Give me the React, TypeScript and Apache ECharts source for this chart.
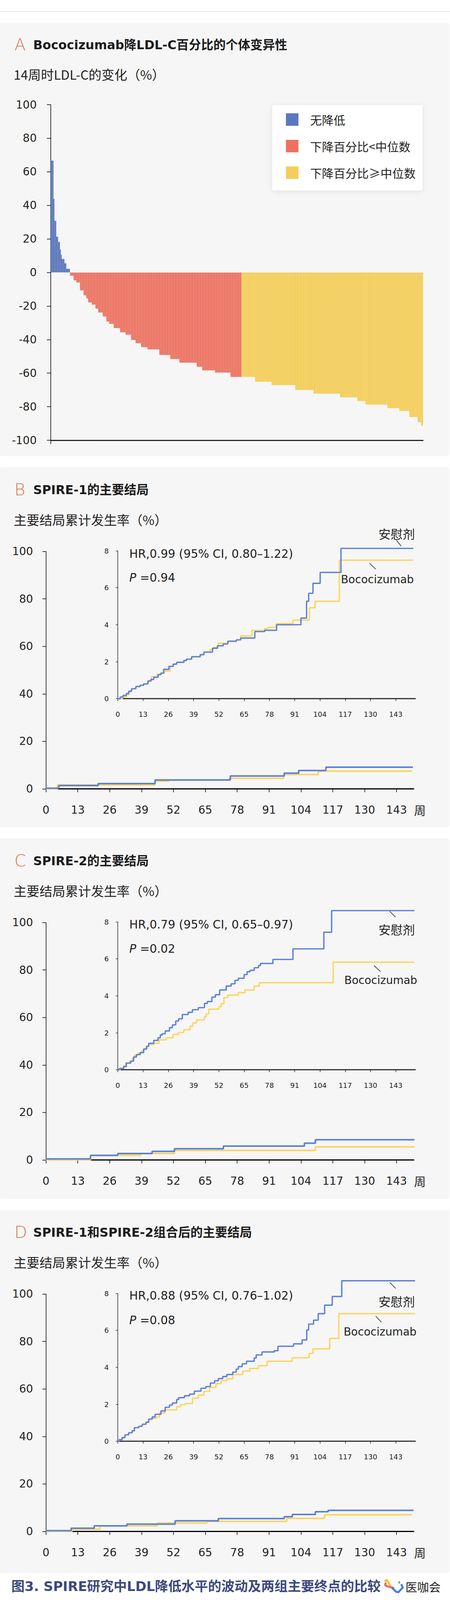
import React, { useEffect, useRef } from 'react';
import * as echarts from 'echarts';

const LATIN = "'DejaVu Sans', 'Noto Sans CJK SC', sans-serif";
const CJK = "'Noto Sans CJK SC', sans-serif";

// ---------------- Panel A : waterfall of LDL-C change at week 14 ----------------
const legendNames = ['无降低', '下降百分比<中位数', '下降百分比≥中位数'];
// each step: value (%) and number of patients sharing that step
const noReductionValues = [66.7, 43.9, 30.8, 21.4, 18.2, 13.8, 10.6, 8.1, 5.5, 2.2];
const noReductionCounts = [3, 1, 2, 2, 2, 1, 1, 3, 2, 4];
const belowMedianValues = [-2.0, -4.7, -6.0, -10.7, -13.7, -15.5, -17.9, -19.2, -21.6, -23.9, -26.3, -29.3, -30.7, -33.2, -35.7, -37.1, -40.3, -42.2, -44.5, -45.9, -49.2, -51.6, -53.8, -56.3, -58.4, -59.7, -62.3];
const belowMedianCounts = [4, 3, 4, 4, 3, 2, 4, 4, 3, 5, 4, 3, 5, 7, 6, 6, 5, 6, 7, 13, 12, 10, 19, 6, 14, 17, 12];
const aboveMedianValues = [-62.3, -65.2, -67.2, -70.1, -72.3, -74.5, -76.7, -78.8, -80.9, -82.6, -86.2, -89.3, -91.4];
const aboveMedianCounts = [15, 18, 26, 20, 29, 19, 9, 24, 13, 11, 9, 4, 2];

// ---------------- Panels B-D : cumulative incidence (%) by week ----------------
const weekTicks = [0, 13, 26, 39, 52, 65, 78, 91, 104, 117, 130, 143];
const panelLetters = ['B', 'C', 'D'];
const panelTitles = ['SPIRE-1的主要结局', 'SPIRE-2的主要结局', 'SPIRE-1和SPIRE-2组合后的主要结局'];
const hrTexts = ['HR,0.99 (95% CI, 0.80–1.22)', 'HR,0.79 (95% CI, 0.65–0.97)', 'HR,0.88 (95% CI, 0.76–1.02)'];
const pValues = ['0.94', '0.02', '0.08'];

const spire1OuterPlacebo = [[0, 0.27], [5.3, 1.37], [21.3, 2.2], [44.5, 3.7], [75.2, 5.4], [97.2, 6.6], [103.1, 7.7], [114.2, 9.1], [149.7, 9.1]];
const spire1OuterBoco = [[0, 0], [4.7, 1.65], [44.5, 3.2], [50.1, 3.7], [74.7, 4.4], [96.9, 6.0], [111.1, 7.45], [149.2, 7.45]];
const spire1InsetPlacebo = [[0, 0], [1.2, 0.09], [2.7, 0.18], [4.4, 0.28], [5.6, 0.4], [7.1, 0.54], [9.3, 0.66], [11.5, 0.73], [13.3, 0.8], [15.5, 0.96], [17, 1.04], [18.5, 1.16], [20.7, 1.3], [22.2, 1.38], [23.6, 1.59], [26.3, 1.75], [28.5, 1.87], [30.3, 1.97], [34, 2.07], [35.4, 2.14], [38, 2.27], [42.4, 2.38], [44.3, 2.52], [48.7, 2.73], [51.3, 2.86], [54.2, 2.96], [56.6, 3.11], [61, 3.18], [63.2, 3.28], [70.5, 3.63], [75.6, 3.7], [81.7, 4.0], [94.2, 4.36], [97.1, 5.27], [98.2, 5.7], [100.4, 6.24], [104.1, 6.83], [114.8, 8.13], [152, 8.13]];
const spire1InsetBoco = [[0, 0], [2.4, 0.1], [4.6, 0.22], [5.9, 0.42], [7.1, 0.54], [9.3, 0.66], [11.5, 0.73], [13.3, 0.8], [15.5, 0.95], [17.3, 1.19], [20.3, 1.33], [22.2, 1.4], [24.1, 1.5], [26.9, 1.74], [28.5, 1.87], [30.3, 1.97], [34, 2.07], [35.4, 2.14], [38, 2.27], [42.4, 2.38], [44.3, 2.52], [47.5, 2.66], [49.2, 2.78], [51.7, 3.0], [56.6, 3.11], [61, 3.18], [63.2, 3.39], [69, 3.69], [75.6, 3.8], [77.3, 3.86], [81.5, 4.06], [90.1, 4.25], [98.6, 4.92], [101.5, 5.27], [114, 7.49], [152, 7.49]];

const spire2OuterPlacebo = [[0, 0.4], [18.2, 1.9], [29.3, 2.7], [43.3, 3.6], [52.4, 4.7], [72.4, 5.8], [105.4, 7.05], [109.9, 8.5], [150.3, 8.5]];
const spire2OuterBoco = [[0, 0], [18.2, 1.95], [38.7, 2.7], [52.4, 4.0], [109.9, 5.5], [150.3, 5.5]];
const spire2InsetPlacebo = [[0, 0], [0.7, 0.06], [3, 0.17], [4.4, 0.36], [6.6, 0.47], [8.1, 0.69], [9.6, 0.82], [11.5, 0.93], [13.3, 1.12], [14.8, 1.27], [15.9, 1.43], [18.5, 1.59], [20.7, 1.73], [21.9, 1.89], [22.9, 1.95], [24.4, 2.1], [26.6, 2.28], [28.1, 2.43], [29.8, 2.64], [31.3, 2.76], [33.2, 2.99], [36.2, 3.11], [38.4, 3.25], [41.4, 3.36], [44.6, 3.59], [46.1, 3.69], [48.4, 3.93], [50.2, 4.06], [52.4, 4.32], [55.8, 4.53], [58.3, 4.65], [60.3, 4.84], [62, 4.95], [65, 5.15], [66.5, 5.3], [68, 5.38], [70.2, 5.52], [72.4, 5.64], [73.4, 5.75], [79.8, 5.97], [90.1, 6.54], [106, 7.44], [110, 8.61], [152.6, 8.61]];
const spire2InsetBoco = [[0, 0], [1.2, 0.11], [3, 0.21], [4, 0.38], [6.3, 0.47], [7.6, 0.6], [8.6, 0.8], [10.4, 0.91], [12.3, 1.02], [13.4, 1.15], [15.1, 1.28], [16, 1.37], [18.5, 1.43], [21.2, 1.62], [24.9, 1.73], [28.4, 1.91], [31.3, 2.02], [34, 2.17], [37.2, 2.36], [38.6, 2.53], [40.5, 2.7], [44.6, 2.88], [45.5, 3.02], [46.8, 3.28], [52, 3.42], [53.2, 3.58], [54.6, 3.91], [56.6, 4.04], [62, 4.17], [65.4, 4.32], [70.2, 4.53], [72.8, 4.71], [110.8, 5.82], [152.6, 5.82]];

const pooledOuterPlacebo = [[0, 0.3], [10.3, 1.33], [19.7, 2.32], [33, 3.07], [52.7, 4.46], [70.3, 5.38], [97.2, 6.19], [100.5, 7.12], [109.9, 8.27], [115.1, 8.85], [149.9, 8.85]];
const pooledOuterBoco = [[0, 0], [10.6, 0.93], [22, 2.3], [45.4, 3.5], [65.6, 4.22], [98.2, 5.48], [113.6, 7.0], [149.2, 7.0]];
const pooledInsetPlacebo = [[0, 0], [0.7, 0.09], [2.2, 0.2], [3.7, 0.35], [5.6, 0.46], [7.4, 0.57], [8.6, 0.74], [10.8, 0.81], [12.6, 0.92], [14.5, 1.03], [15.9, 1.2], [17.7, 1.32], [19.2, 1.46], [22.2, 1.64], [24.4, 1.84], [26.6, 1.96], [28.1, 2.07], [30.3, 2.26], [31.3, 2.36], [34.3, 2.46], [36.9, 2.55], [39.4, 2.71], [42.8, 2.87], [45.3, 2.96], [47.6, 3.15], [49.8, 3.27], [51.7, 3.39], [54, 3.5], [56.1, 3.61], [59.1, 3.74], [60.9, 3.9], [62, 4.04], [64, 4.19], [66.2, 4.33], [70.2, 4.51], [71.2, 4.67], [74.2, 4.83], [80.5, 4.9], [82.4, 5.14], [90.4, 5.27], [94.8, 5.48], [97.2, 6.02], [98.2, 6.34], [100.7, 6.55], [103.1, 6.9], [106.4, 7.36], [110.3, 7.83], [115.2, 8.68], [152.9, 8.68]];
const pooledInsetBoco = [[0, 0], [0.7, 0.09], [2.2, 0.2], [3.7, 0.35], [5.6, 0.46], [7.4, 0.57], [8.6, 0.74], [10.8, 0.81], [12.6, 0.92], [14.5, 1.03], [15.9, 1.2], [18.2, 1.24], [19.9, 1.31], [21.4, 1.53], [24.4, 1.7], [30.3, 1.87], [32.2, 1.98], [34.7, 2.04], [38.4, 2.34], [41.4, 2.5], [44.3, 2.7], [47.3, 2.92], [50.5, 3.12], [53.2, 3.28], [56.1, 3.38], [59.1, 3.61], [64.3, 3.79], [67.9, 3.94], [72.4, 4.09], [76.8, 4.33], [89.7, 4.52], [98.5, 4.75], [100.4, 5.0], [109, 5.56], [113.7, 6.9], [152.9, 6.9]];

const outerPlacebo = [spire1OuterPlacebo, spire2OuterPlacebo, pooledOuterPlacebo];
const outerBoco = [spire1OuterBoco, spire2OuterBoco, pooledOuterBoco];
const insetPlacebo = [spire1InsetPlacebo, spire2InsetPlacebo, pooledInsetPlacebo];
const insetBoco = [spire1InsetBoco, spire2InsetBoco, pooledInsetBoco];

// ---------------- layout & style ----------------
const W = 1152;
const H = 4294;
const COLORS = { noRed: '#5b78bd', below: '#ec7362', above: '#f4ce5a', placebo: '#5b80db', boco: '#fdd45c', orange: '#d8773f', text: '#1c1c1c' };
const panelBoxes = [
  { top: 58, height: 1110 },
  { top: 1196, height: 922 },
  { top: 2146, height: 924 },
  { top: 3097, height: 930 },
];
const kmShift = [0, 950, 1901];
const gridA = { left: 130, top: 268, width: 953, height: 859 };
const legendBox = { x: 697, y: 269, width: 385, height: 219 };
const outerGridBase = { left: 117.6, top: 1411.7, width: 941.5, height: 607.6 };
const insetGridBase = { left: 301.5, top: 1410, width: 761.5, height: 378.7 };
const hrY = [1418.3, 2367, 3317];
const pY = [1479.3, 2429.3, 3380];
const placeboLabel = [
  { x: 1015.5, y: 1365, l: [1015, 1383, 1027, 1398] },
  { x: 1015.5, y: 2378.3, l: [997.8, 2333.3, 1012.5, 2347.7] },
  { x: 1015.5, y: 3330, l: [997.8, 3283.3, 1013, 3298.3] },
];
const bocoLabel = [
  { x: 966, y: 1483, l: [946, 1441.7, 962, 1457.3] },
  { x: 974.8, y: 2509.6, l: [957.4, 2471.7, 974.3, 2487.5] },
  { x: 973, y: 3409.3, l: [961.8, 3369.3, 976.5, 3385] },
];
// the photographed area ends at 4096 px, so caption + logo sit in the band under panel D
const captionY = 4061;

function expand(values: number[], counts: number[]): number[] {
  const out: number[] = [];
  values.forEach((v, i) => {
    for (let k = 0; k < counts[i]; k++) out.push(v);
  });
  return out;
}

function buildOption() {
  const blue = expand(noReductionValues, noReductionCounts);
  const red = expand(belowMedianValues, belowMedianCounts);
  const yellow = expand(aboveMedianValues, aboveMedianCounts);
  const group = [...blue.map(() => 0), ...red.map(() => 1), ...yellow.map(() => 2)];
  const values = [...blue, ...red, ...yellow];
  const categories = values.map((_, i) => String(i + 1));
  const groupData = (g: number) => values.map((v, i) => (group[i] === g ? v : '-'));

  const grids: any[] = [{ ...gridA }];
  const xAxes: any[] = [
    {
      type: 'category', gridIndex: 0, data: categories, boundaryGap: true,
      axisLine: { onZero: false, lineStyle: { color: '#000', width: 2.5 } },
      axisTick: { show: false }, axisLabel: { show: false }, splitLine: { show: false },
    },
  ];
  const yAxes: any[] = [
    {
      type: 'value', gridIndex: 0, min: -100, max: 100, interval: 20,
      axisLine: { show: true, lineStyle: { color: '#000', width: 1.5 } },
      axisTick: { show: true, length: 10, lineStyle: { color: '#000', width: 1.5 } },
      axisLabel: { fontSize: 28, color: '#222', margin: 36, fontFamily: LATIN },
      splitLine: { show: false },
    },
  ];
  const series: any[] = [
    { name: legendNames[0], color: COLORS.noRed },
    { name: legendNames[1], color: COLORS.below },
    { name: legendNames[2], color: COLORS.above },
  ].map((s, g) => ({
    type: 'bar', name: s.name, xAxisIndex: 0, yAxisIndex: 0, data: groupData(g),
    barGap: '-100%', barCategoryGap: '0%',
    itemStyle: { color: s.color, borderColor: s.color, borderWidth: 1 },
    emphasis: { disabled: true },
  }));

  const graphic: any[] = [];
  const title = (letter: string, text: string, cy: number) => {
    graphic.push({ type: 'text', x: 37, y: cy - 1, style: { text: letter, fontSize: 42, fontFamily: LATIN, fill: COLORS.orange, fontWeight: 300, verticalAlign: 'middle' } });
    graphic.push({ type: 'text', x: 85, y: cy, style: { text, fontSize: 31.5, fontFamily: LATIN, fontWeight: 'bold', fill: COLORS.text, verticalAlign: 'middle' } });
  };
  const ylabel = (text: string, cy: number) => {
    graphic.push({ type: 'text', x: 35, y: cy, style: { text, fontSize: 33, fontFamily: CJK, fill: '#222', verticalAlign: 'middle' } });
  };

  title('A', 'Bococizumab降LDL-C百分比的个体变异性', 115);
  ylabel('14周时LDL-C的变化（%）', 190);
  graphic.push({ type: 'line', shape: { x1: gridA.left, y1: gridA.top + gridA.height, x2: gridA.left, y2: gridA.top + gridA.height + 10 }, style: { stroke: '#000', lineWidth: 1.5 } });
  graphic.push({
    type: 'rect', z: 0,
    shape: { x: legendBox.x, y: legendBox.y, width: legendBox.width, height: legendBox.height, r: 4 },
    style: { fill: '#fff', shadowBlur: 12, shadowColor: 'rgba(0,0,0,0.09)', shadowOffsetY: 2 },
  });

  for (let p = 0; p < 3; p++) {
    const dy = kmShift[p];
    const oi = grids.length;
    grids.push({ ...outerGridBase, top: outerGridBase.top + dy });
    grids.push({ ...insetGridBase, top: insetGridBase.top + dy });
    const ii = oi + 1;
    xAxes.push({
      type: 'value', gridIndex: oi, min: 0, max: 150, interval: 13,
      axisLine: { show: true, onZero: false, lineStyle: { color: '#000', width: 3 } },
      axisTick: { show: true, length: 9, customValues: weekTicks, lineStyle: { color: '#000', width: 1.5 } },
      axisLabel: { fontSize: 28, color: '#222', margin: 40, lineHeight: 28, customValues: weekTicks, fontFamily: LATIN },
      splitLine: { show: false },
    });
    xAxes.push({
      type: 'value', gridIndex: ii, min: 0, max: 153, interval: 13,
      axisLine: { show: true, onZero: false, lineStyle: { color: '#333', width: 3 } },
      axisTick: { show: true, length: 6, customValues: weekTicks, lineStyle: { color: '#000', width: 1.2 } },
      axisLabel: { fontSize: 18, color: '#222', margin: 31, lineHeight: 18, customValues: weekTicks, fontFamily: LATIN },
      splitLine: { show: false },
    });
    yAxes.push({
      type: 'value', gridIndex: oi, min: 0, max: 100, interval: 20,
      axisLine: { show: true, lineStyle: { color: '#000', width: 1.5 } },
      axisTick: { show: true, length: 9, lineStyle: { color: '#000', width: 1.5 } },
      axisLabel: { fontSize: 28, color: '#222', margin: 33, fontFamily: LATIN },
      splitLine: { show: false },
    });
    yAxes.push({
      type: 'value', gridIndex: ii, min: 0, max: 8, interval: 2,
      axisLine: { show: true, lineStyle: { color: '#000', width: 1.2 } },
      axisTick: { show: true, length: 5, lineStyle: { color: '#000', width: 1.2 } },
      axisLabel: { fontSize: 18, color: '#222', margin: 23, fontFamily: LATIN },
      splitLine: { show: false },
    });
    const line = (name: string, data: number[][], axis: number, color: string, width: number) => ({
      type: 'line', name, xAxisIndex: axis, yAxisIndex: axis, data, step: 'end', clip: false,
      showSymbol: false, symbol: 'none', lineStyle: { color, width }, itemStyle: { color },
      emphasis: { disabled: true }, z: name === '安慰剂' ? 4 : 3,
    });
    series.push(line('Bococizumab', outerBoco[p], oi, COLORS.boco, 4));
    series.push(line('安慰剂', outerPlacebo[p], oi, COLORS.placebo, 4));
    series.push(line('Bococizumab', insetBoco[p], ii, COLORS.boco, 3.4));
    series.push(line('安慰剂', insetPlacebo[p], ii, COLORS.placebo, 3.4));

    const top = panelBoxes[p + 1].top;
    title(panelLetters[p], panelTitles[p], top + 58);
    ylabel('主要结局累计发生率（%）', top + 134);
    graphic.push({ type: 'text', x: 331, y: hrY[p], style: { text: hrTexts[p], fontSize: 29.5, fontFamily: LATIN, fill: '#222', verticalAlign: 'middle' } });
    graphic.push({
      type: 'text', x: 331, y: pY[p],
      style: { text: '{i|P} =' + pValues[p], fontSize: 29.5, fontFamily: LATIN, fill: '#222', verticalAlign: 'middle', rich: { i: { fontStyle: 'italic', fontSize: 29.5, fontFamily: LATIN, fill: '#222' } } },
    });
    const pl = placeboLabel[p];
    graphic.push({ type: 'text', x: pl.x, y: pl.y, style: { text: '安慰剂', fontSize: 31, fontFamily: CJK, fill: '#222', align: 'center', verticalAlign: 'middle' } });
    graphic.push({ type: 'line', shape: { x1: pl.l[0], y1: pl.l[1], x2: pl.l[2], y2: pl.l[3] }, style: { stroke: '#222', lineWidth: 1.6 } });
    const bl = bocoLabel[p];
    graphic.push({ type: 'text', x: bl.x, y: bl.y, style: { text: 'Bococizumab', fontSize: 28, fontFamily: LATIN, fill: '#222', align: 'center', verticalAlign: 'middle' } });
    graphic.push({ type: 'line', shape: { x1: bl.l[0], y1: bl.l[1], x2: bl.l[2], y2: bl.l[3] }, style: { stroke: '#222', lineWidth: 1.6 } });
    graphic.push({ type: 'text', x: 1060, y: outerGridBase.top + dy + outerGridBase.height + 54, style: { text: '周', fontSize: 30, fontFamily: CJK, fill: '#222', verticalAlign: 'middle' } });
  }

  // caption and logo (kept inside the photographed area)
  graphic.push({ type: 'text', x: 29, y: captionY, style: { text: '图3. SPIRE研究中LDL降低水平的波动及两组主要终点的比较', fontSize: 34, fontWeight: 'bold', fontFamily: LATIN, fill: '#3b4a7c', verticalAlign: 'middle' } });
  const lg = { x: 996, y: captionY };
  graphic.push({ type: 'polyline', shape: { points: [[lg.x - 10, lg.y - 14], [lg.x - 6, lg.y - 16], [lg.x - 2, lg.y - 11], [lg.x + 3, lg.y - 1]] }, style: { stroke: '#f6c21c', lineWidth: 5, lineCap: 'round', fill: null } });
  graphic.push({ type: 'polyline', shape: { points: [[lg.x - 9, lg.y - 8], [lg.x - 10, lg.y - 3], [lg.x - 5, lg.y], [lg.x + 11, lg.y + 4]] }, style: { stroke: '#e96a5c', lineWidth: 5, lineCap: 'round', fill: null } });
  graphic.push({ type: 'polyline', shape: { points: [[lg.x + 8, lg.y + 4], [lg.x + 18, lg.y + 14], [lg.x + 24, lg.y + 15], [lg.x + 35, lg.y + 3], [lg.x + 32, lg.y - 4]] }, style: { stroke: '#3f7fe0', lineWidth: 5, lineCap: 'round', fill: null } });
  graphic.push({ type: 'polygon', shape: { points: [[lg.x + 26, lg.y - 14], [lg.x + 29, lg.y - 10], [lg.x + 26, lg.y - 6], [lg.x + 23, lg.y - 10]] }, style: { fill: '#4cbb5a' } });
  graphic.push({ type: 'text', x: lg.x + 42, y: captionY, style: { text: '医咖会', fontSize: 30, fontFamily: CJK, fill: '#222', verticalAlign: 'middle' } });

  return {
    animation: false,
    textStyle: { fontFamily: LATIN },
    grid: grids,
    xAxis: xAxes,
    yAxis: yAxes,
    legend: {
      data: legendNames, orient: 'vertical', left: legendBox.x + 35, top: legendBox.y + 21,
      itemWidth: 30, itemHeight: 30, itemGap: 36, icon: 'rect', selectedMode: false, padding: 0, z: 5,
      textStyle: { fontSize: 30, color: '#222', fontFamily: CJK, lineHeight: 30, padding: [0, 0, 0, 26] },
    },
    series,
    graphic,
  };
}

export default function App() {
  const ref = useRef<HTMLDivElement>(null);
  useEffect(() => {
    if (!ref.current) return;
    const chart = echarts.init(ref.current, null, { renderer: 'svg' });
    chart.setOption(buildOption() as any);
    return () => chart.dispose();
  }, []);
  return (
    <div style={{ position: 'absolute', left: 0, top: 0, width: W, height: H, background: '#fff', overflow: 'hidden' }}>
      <div style={{ position: 'absolute', left: 0, top: 28, width: W, height: 2, background: '#e6e6e6' }} />
      {panelBoxes.map((b, i) => (
        <div key={i} style={{ position: 'absolute', left: 0, top: b.top, width: W - 1, height: b.height, background: '#f6f6f6', borderRadius: 6 }} />
      ))}
      <div style={{ position: 'absolute', left: 0, top: 4176, width: W, height: 2, background: '#e6e6e6' }} />
      <div ref={ref} style={{ position: 'absolute', left: 0, top: 0, width: W, height: H }} />
    </div>
  );
}
